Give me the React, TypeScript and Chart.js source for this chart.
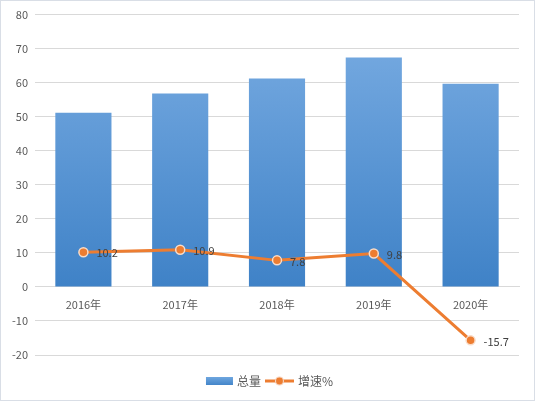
import React, { useEffect, useRef } from "react";
import { Chart, registerables } from "chart.js";

Chart.register(...registerables);

const categories = ["2016年", "2017年", "2018年", "2019年", "2020年"];
const totals = [51.2, 56.8, 61.2, 67.4, 59.7];
const growth = [10.2, 10.9, 7.8, 9.8, -15.7];
const yTicks = { min: -20, max: 80, step: 10 };
const seriesNames = ["总量", "增速%"];

const FONT = "'Noto Sans CJK SC', 'Noto Sans', sans-serif";
const TEXT = "#595959";
const ORANGE = "#ed7d31";

const labelPlugin = {
  id: "pointLabels",
  afterDatasetsDraw(chart: any) {
    const meta = chart.getDatasetMeta(0);
    const ctx = chart.ctx;
    ctx.save();
    ctx.font = `11px ${FONT}`;
    ctx.fillStyle = "#404040";
    ctx.textAlign = "left";
    ctx.textBaseline = "middle";
    meta.data.forEach((pt: any, i: number) => {
      ctx.fillText(String(growth[i]), pt.x + 13, pt.y + 1);
    });
    ctx.restore();
  },
};

const legendPlugin = {
  id: "customLegend",
  afterDraw(chart: any) {
    const ctx = chart.ctx;
    const y = 380;
    ctx.save();
    ctx.font = `12px ${FONT}`;
    ctx.textBaseline = "middle";
    ctx.textAlign = "left";
    const w1 = ctx.measureText(seriesNames[0]).width;
    const w2 = ctx.measureText(seriesNames[1]).width;
    const total = 27 + 4 + w1 + 4 + 29 + 4 + w2;
    let x = chart.width / 2 - total / 2 + 2;
    const g = ctx.createLinearGradient(0, y - 4, 0, y + 4);
    g.addColorStop(0, "#6ea6df");
    g.addColorStop(1, "#4385c9");
    ctx.fillStyle = g;
    ctx.fillRect(x, y - 4, 27, 8);
    x += 31;
    ctx.fillStyle = TEXT;
    ctx.fillText(seriesNames[0], x, y);
    x += w1 + 4;
    ctx.strokeStyle = ORANGE;
    ctx.lineWidth = 3;
    ctx.beginPath();
    ctx.moveTo(x, y);
    ctx.lineTo(x + 29, y);
    ctx.stroke();
    ctx.beginPath();
    ctx.arc(x + 14.5, y, 4, 0, Math.PI * 2);
    ctx.fillStyle = ORANGE;
    ctx.fill();
    ctx.lineWidth = 1.2;
    ctx.strokeStyle = "#f6d2bb";
    ctx.stroke();
    x += 33;
    ctx.fillStyle = TEXT;
    ctx.fillText(seriesNames[1], x, y);
    ctx.restore();
  },
};

export default function App() {
  const ref = useRef<HTMLCanvasElement>(null);
  useEffect(() => {
    document.body.style.margin = "0";
    const chart = new Chart(ref.current!, {
      data: {
        labels: categories,
        datasets: [
          {
            type: "line",
            label: seriesNames[1],
            data: growth,
            borderColor: ORANGE,
            borderWidth: 3,
            pointRadius: 4.5,
            pointBackgroundColor: ORANGE,
            pointBorderColor: "#f9dcc8",
            pointBorderWidth: 1.5,
            tension: 0,
            order: 0,
          },
          {
            type: "bar",
            label: seriesNames[0],
            data: totals,
            backgroundColor: (c: any) => {
              const area = c.chart.chartArea;
              if (!area) return "#5b9bd5";
              const g = c.chart.ctx.createLinearGradient(0, area.top + 40, 0, area.bottom - 68);
              g.addColorStop(0, "#72a7df");
              g.addColorStop(1, "#3f82c7");
              return g;
            },
            barPercentage: 0.58,
            categoryPercentage: 1,
            order: 1,
          },
        ],
      } as any,
      options: {
        animation: false,
        responsive: false,
        layout: { padding: { left: 0, right: 15, top: 10, bottom: 45 } },
        plugins: { legend: { display: false }, tooltip: { enabled: false } },
        scales: {
          x: {
            position: { y: 0 } as any,
            grid: { display: false },
            border: { display: true, color: "#d9d9d9" },
            ticks: { color: TEXT, font: { family: FONT, size: 11 }, padding: 3 },
          },
          y: {
            min: yTicks.min,
            max: yTicks.max,
            afterFit: (s: any) => {
              s.width = 34;
            },
            grid: { color: "#d9d9d9", drawTicks: false },
            border: { display: false },
            ticks: { stepSize: yTicks.step, color: TEXT, font: { family: FONT, size: 11 }, padding: 7 },
          },
        },
      },
      plugins: [labelPlugin, legendPlugin],
    });
    return () => chart.destroy();
  }, []);
  return (
    <div
      style={{
        position: "fixed",
        left: 0,
        top: 0,
        width: 535,
        height: 401,
        boxSizing: "border-box",
        border: "1px solid #d9dee6",
        background: "#fff",
      }}
    >
      <canvas ref={ref} width={533} height={399} style={{ display: "block" }} />
    </div>
  );
}
